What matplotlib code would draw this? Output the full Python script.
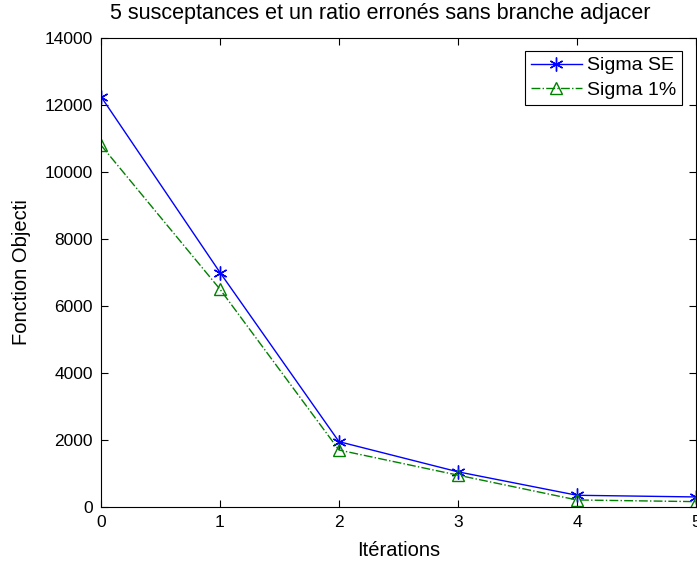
import matplotlib.pyplot as plt
import numpy as np

plt.rcParams['font.family'] = ['Liberation Sans', 'DejaVu Sans']

iterations = [0, 1, 2, 3, 4, 5]
sigma_se = [12250, 7000, 1950, 1050, 350, 300]
sigma_1pc = [10800, 6500, 1700, 950, 210, 160]

fig = plt.figure(figsize=(6.97, 5.62), dpi=100)
ax = fig.add_axes([101 / 697, 55 / 562, 595 / 697, 469 / 562])

ax.plot(iterations, sigma_se, color='#0000ff', marker=(6, 2, 0), markersize=10,
        markeredgewidth=1, linewidth=1, label='Sigma SE')
ax.plot(iterations, sigma_1pc, color='#008000', marker='^', markersize=9,
        markerfacecolor='none', linestyle='-.', linewidth=1, label='Sigma 1%')

ax.set_xlim(0, 5)
ax.set_ylim(0, 14000)
ax.set_xticks(range(6))
ax.set_yticks(np.arange(0, 14001, 2000))
ax.tick_params(direction='in', top=True, right=True, labelsize=12.5, length=5, pad=6)
for s in ax.spines.values():
    s.set_linewidth(0.8)

ax.set_xlabel('Itérations', fontsize=14.5, labelpad=8)
ax.set_ylabel('Fonction Objecti', fontsize=14.5, labelpad=10)
fig.text(380 / 697, 1 - 14 / 562, '5 susceptances et un ratio erronés sans branche adjacer',
         ha='center', va='center', fontsize=15.5)

leg = ax.legend(loc='upper right', bbox_to_anchor=(0.987, 0.985), fontsize=14,
                fancybox=False, edgecolor='black', framealpha=1,
                handlelength=2.6, handletextpad=0.3, borderaxespad=0.3,
                labelspacing=0.35, borderpad=0.3)
leg.get_frame().set_linewidth(0.8)

fig.savefig('out.png', dpi=100)
